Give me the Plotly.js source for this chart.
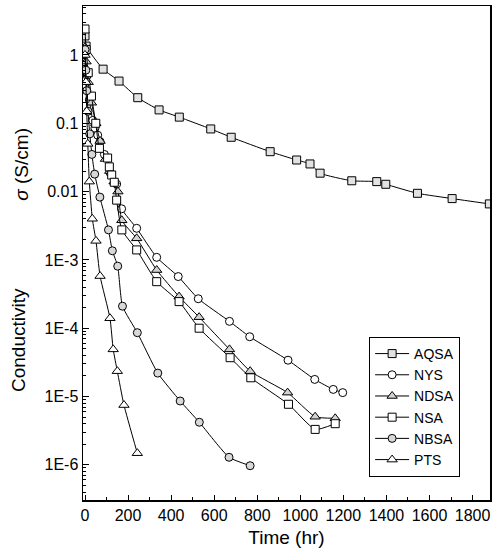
<!DOCTYPE html>
<html><head><meta charset="utf-8">
<script src="https://cdn.plot.ly/plotly-3.0.1.min.js"></script>
<style>html,body{margin:0;padding:0;background:#fff}#chart{width:501px;height:557px}</style>
</head><body><div id="chart"></div>
<script>
// ---- data ----
const seriesNames = ["AQSA", "NYS", "NDSA", "NSA", "NBSA", "PTS"];

const aqsaTime = [0, 5, 84, 158, 245, 344, 438, 584, 679, 860, 983, 1045, 1092, 1239, 1355, 1397, 1544, 1705, 1878];
const aqsaSigma = [1.9, 1.35, 0.62, 0.415, 0.237, 0.157, 0.123, 0.0826, 0.0624, 0.0384, 0.029, 0.0254, 0.0186, 0.0144, 0.014, 0.0128, 0.00944, 0.0079, 0.0066];

const nysTime = [0, 10, 20, 36, 46, 59, 70, 90, 116, 147, 170, 240, 333, 433, 526, 671, 765, 943, 1067, 1153, 1197];
const nysSigma = [1.05, 0.5, 0.22, 0.11, 0.085, 0.067, 0.054, 0.035, 0.019, 0.0129, 0.0056, 0.0029, 0.00109, 5.7e-4, 2.7e-4, 1.26e-4, 7.5e-5, 3.4e-5, 1.78e-5, 1.27e-5, 1.14e-5];

const ndsaTime = [0, 5, 15, 30, 50, 70, 95, 115, 135, 153, 171, 240, 333, 437, 530, 671, 767, 941, 1069, 1162];
const ndsaSigma = [1.3, 0.8, 0.4, 0.2, 0.1, 0.055, 0.03, 0.02, 0.014, 0.01, 0.0038, 0.00207, 7.1e-4, 2.9e-4, 1.45e-4, 4.9e-5, 2.35e-5, 1.14e-5, 5.06e-6, 4.8e-6];

const nsaTime = [0, 5, 15, 30, 50, 67, 105, 113, 124, 136, 147, 171, 240, 333, 437, 530, 674, 770, 945, 1069, 1162];
const nsaSigma = [2.4, 1.2, 0.55, 0.25, 0.1, 0.043, 0.031, 0.023, 0.0175, 0.0137, 0.0075, 0.00275, 0.0014, 4.8e-4, 2.45e-4, 1.0e-4, 3.7e-5, 1.88e-5, 7.7e-6, 3.3e-6, 4.0e-6];

const nbsaTime = [0, 4, 8, 14, 22, 32, 45, 69, 109, 127, 152, 174, 243, 338, 442, 531, 669, 767];
const nbsaSigma = [1.2, 0.6, 0.3, 0.15, 0.07, 0.035, 0.018, 8.3e-3, 2.75e-3, 1.36e-3, 8.1e-4, 2.1e-4, 8.6e-5, 2.2e-5, 8.6e-6, 4.2e-6, 1.29e-6, 9.7e-7];

const ptsTime = [0, 4, 8, 13, 20, 34, 51, 70, 116, 131, 150, 181, 243];
const ptsSigma = [1.0, 0.4, 0.15, 0.05, 0.014, 0.004, 0.0019, 5.8e-4, 1.4e-4, 4.9e-5, 2.35e-5, 7.5e-6, 1.48e-6];

const xTickVals = [0, 200, 400, 600, 800, 1000, 1200, 1400, 1600, 1800];
const xMinorVals = [100, 300, 500, 700, 900, 1100, 1300, 1500, 1700];
const yTickVals = [1, 0.1, 0.01, 1e-3, 1e-4, 1e-5, 1e-6];
const yTickText = ["1", "0.1", "0.01", "1E-3", "1E-4", "1E-5", "1E-6"];
const yDecades = [1e-7, 1e-6, 1e-5, 1e-4, 1e-3, 1e-2, 1e-1, 1];
const yMinorDigits = [2, 3, 4, 5, 6, 7, 8, 9];

// ---- styles ----
const styles = [
  {symbol: "square", fill: "#e2e2e2", size: 8},
  {symbol: "circle", fill: "#ffffff", size: 8},
  {symbol: "triangle-up", fill: "#d2d2d2", size: 9},
  {symbol: "square", fill: "#ffffff", size: 8},
  {symbol: "circle", fill: "#d8d8d8", size: 8},
  {symbol: "triangle-up", fill: "#ffffff", size: 9}
];
const xs = [aqsaTime, nysTime, ndsaTime, nsaTime, nbsaTime, ptsTime];
const ys = [aqsaSigma, nysSigma, ndsaSigma, nsaSigma, nbsaSigma, ptsSigma];

const yMinorVals = [];
yDecades.forEach(d => yMinorDigits.forEach(k => yMinorVals.push(d * k)));

const traces = seriesNames.map((name, i) => ({
  type: "scatter",
  mode: "lines+markers",
  name: name,
  x: xs[i],
  y: ys[i],
  line: {color: "#000", width: 1, shape: "spline", smoothing: 0.5},
  marker: {symbol: styles[i].symbol, size: styles[i].size, color: styles[i].fill,
           line: {color: "#000", width: 1}}
}));

const font = "Arial, 'Liberation Sans', Helvetica, sans-serif";

const layout = {
  width: 501, height: 557,
  margin: {l: 83, r: 11, t: 6, b: 57},
  paper_bgcolor: "#fff", plot_bgcolor: "#fff",
  font: {family: font, color: "#000", size: 16},
  showlegend: true,
  legend: {
    x: 0.703, y: 0.33, xanchor: "left", yanchor: "top",
    bgcolor: "#fff", bordercolor: "#000", borderwidth: 1,
    font: {family: font, size: 14, color: "#000"},
    traceorder: "normal", itemwidth: 34, entrywidth: 110
  },
  xaxis: {
    range: [-9.3, 1881],
    tickmode: "array", tickvals: xTickVals,
    ticks: "inside", ticklen: 5, tickwidth: 1, tickcolor: "#000",
    minor: {tickmode: "array", tickvals: xMinorVals, ticks: "inside", ticklen: 3, tickcolor: "#000", showgrid: false},
    showline: true, linecolor: "#000", linewidth: 1.5, mirror: true,
    showgrid: false, zeroline: false,
    tickfont: {size: 16, family: font},
    title: {text: "Time (hr)", font: {size: 19, family: font}, standoff: 8}
  },
  yaxis: {
    type: "log",
    range: [-6.515, 0.717],
    tickmode: "array", tickvals: yTickVals, ticktext: yTickText,
    ticks: "inside", ticklen: 6, tickwidth: 1, tickcolor: "#000",
    minor: {tickmode: "array", tickvals: yMinorVals, ticks: "inside", ticklen: 3, tickcolor: "#000", showgrid: false},
    showline: true, linecolor: "#000", linewidth: 1.5, mirror: true,
    showgrid: false, zeroline: false,
    tickfont: {size: 16, family: font}
  },
  annotations: [
    {text: "<i>σ</i> (S/cm)", xref: "paper", yref: "paper", x: -0.152, y: 0.679,
     xanchor: "center", yanchor: "middle", textangle: -90, showarrow: false,
     font: {size: 19, family: font}},
    {text: "Conductivity", xref: "paper", yref: "paper", x: -0.157, y: 0.324,
     xanchor: "center", yanchor: "middle", textangle: -90, showarrow: false,
     font: {size: 19, family: font}}
  ]
};

Plotly.newPlot("chart", traces, layout, {displayModeBar: false, staticPlot: true});
</script>
</body></html>
